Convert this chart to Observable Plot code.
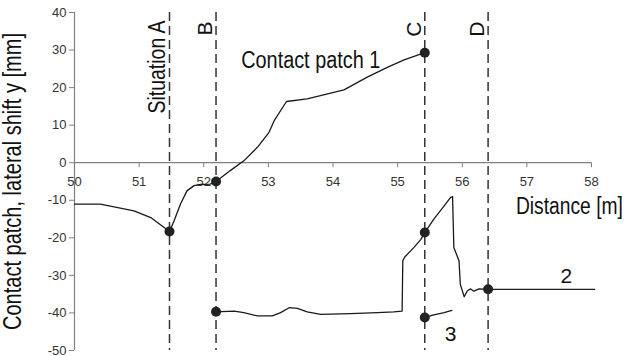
<!DOCTYPE html>
<html><head><meta charset="utf-8">
<script src="https://cdn.jsdelivr.net/npm/d3@7"></script>
<script src="https://cdn.jsdelivr.net/npm/@observablehq/plot@0.6"></script>
<style>body{margin:0;background:#fff} svg{display:block}</style>
</head><body><div id="chart"></div>
<script>
// Axis ticks
const xTicks = [50, 51, 52, 53, 54, 55, 56, 57, 58];
const yTicks = [-50, -40, -30, -20, -10, 0, 10, 20, 30, 40];

// Situations (vertical dashed lines)
const sitX = [51.47, 52.19, 55.42, 56.40];
const sitLabels = ["Situation A", "B", "C", "D"];

// Contact patch 1
const p1X = [50.00, 50.40, 50.92, 51.18, 51.47, 51.54, 51.64, 51.74, 51.85, 51.95, 52.10, 52.19, 52.41, 52.62, 52.83, 53.01, 53.09, 53.28, 53.60, 54.17, 54.53, 54.84, 55.10, 55.42];
const p1Y = [-11.0, -11.0, -12.8, -14.6, -18.3, -15.5, -11.0, -7.5, -6.1, -5.8, -5.7, -5.0, -2.1, 0.5, 4.1, 8.1, 11.2, 16.3, 17.0, 19.4, 22.8, 25.4, 27.4, 29.3];

// Contact patch 2
const p2X = [52.19, 52.47, 52.62, 52.83, 53.06, 53.19, 53.32, 53.45, 53.60, 53.81, 54.27, 54.69, 54.94, 55.07, 55.08, 55.11, 55.25, 55.36, 55.42, 55.56, 55.72, 55.82, 55.85, 55.87, 55.95, 55.97, 56.03, 56.08, 56.13, 56.18, 56.26, 56.40, 58.05];
const p2Y = [-39.7, -39.5, -39.9, -40.8, -40.8, -39.9, -38.6, -38.8, -39.7, -40.4, -40.2, -39.9, -39.7, -39.5, -26.1, -25.1, -22.6, -20.4, -18.6, -15.0, -11.5, -9.2, -9.0, -22.6, -26.1, -32.4, -35.7, -34.1, -33.6, -34.2, -33.6, -33.7, -33.7];

// Contact patch 3
const p3X = [55.42, 55.56, 55.72, 55.84];
const p3Y = [-41.2, -40.5, -39.9, -39.3];

// Marked points
const dotX = [51.47, 52.19, 52.19, 55.42, 55.42, 55.42, 56.40];
const dotY = [-18.3, -5.0, -39.7, 29.3, -18.6, -41.2, -33.7];

// Annotations
const annText = ["Contact patch 1", "Distance [m]", "2", "3"];
const annX = [52.58, 56.83, 57.61, 55.82];
const annY = [27.1, -11.7, -30.2, -45.8];
const yLabel = "Contact patch, lateral shift y [mm]";

const toRows = (xs, ys) => xs.map((x, i) => ({x, y: ys[i]}));
const p1 = toRows(p1X, p1Y), p2 = toRows(p2X, p2Y), p3 = toRows(p3X, p3Y);
const dots = toRows(dotX, dotY);
const sits = sitX.map((x, i) => ({x, label: sitLabels[i]}));
const anns = annText.map((t, i) => ({t, x: annX[i], y: annY[i]}));

const font = "'Liberation Sans', Arial, sans-serif";

const plot = Plot.plot({
  width: 627, height: 356,
  marginLeft: 74, marginRight: 36, marginTop: 12, marginBottom: 6,
  style: {fontFamily: font, background: "#fff", overflow: "visible"},
  x: {domain: [50, 58]},
  y: {domain: [-50, 40]},
  marks: [
    Plot.ruleY([0], {stroke: "#808080", strokeWidth: 1.2}),
    Plot.ruleX([50], {stroke: "#808080", strokeWidth: 1.2}),
    Plot.axisY({ticks: yTicks, tickSize: 5, tickPadding: 3, tickFormat: d => String(d), fontSize: 13, stroke: "#808080", fill: "#333", label: null}),
    Plot.axisX({ticks: xTicks, tickSize: 5, tickPadding: 9, tickFormat: d => String(d), fontSize: 13, stroke: "#808080", fill: "#333", label: null}),
    Plot.ruleX(sits, {x: "x", stroke: "#333", strokeWidth: 1.5, strokeDasharray: "9,5"}),
    Plot.line(p1, {x: "x", y: "y", stroke: "#1a1a1a", strokeWidth: 1.3}),
    Plot.line(p2, {x: "x", y: "y", stroke: "#1a1a1a", strokeWidth: 1.3}),
    Plot.line(p3, {x: "x", y: "y", stroke: "#1a1a1a", strokeWidth: 1.3}),
    Plot.dot(dots, {x: "x", y: "y", r: 5, fill: "#222", stroke: "none"}),
    Plot.text(sits.slice(0, 1), {x: "x", frameAnchor: "top", text: "label", rotate: -90, textAnchor: "end", lineAnchor: "middle", dx: -12, dy: 8, fontSize: 23.5, fill: "#111"}),
    Plot.text(sits.slice(1), {x: "x", frameAnchor: "top", text: "label", rotate: -90, textAnchor: "end", lineAnchor: "middle", dx: -11, dy: 9, fontSize: 21, fill: "#111"}),
    Plot.text(anns.slice(0, 2), {x: "x", y: "y", text: "t", textAnchor: "start", lineAnchor: "middle", fontSize: 23.5, fill: "#111"}),
    Plot.text(anns.slice(2), {x: "x", y: "y", text: "t", textAnchor: "middle", lineAnchor: "middle", fontSize: 21, fill: "#111"}),
    Plot.text([yLabel], {frameAnchor: "left", rotate: -90, textAnchor: "middle", lineAnchor: "middle", dx: -62, fontSize: 25, fill: "#111"})
  ]
});

// Move the x axis so that it crosses at y = 0
const y0 = plot.scale("y").apply(0);
const shift = y0 - (356 - 6);
plot.querySelectorAll('g[aria-label^="x-axis"]').forEach(g => {
  const t = g.getAttribute("transform") || "";
  g.setAttribute("transform", `translate(0,${shift}) ${t}`);
});

// Condensed lettering as in the reference
const lengths = {"Situation A": 93, "Contact patch 1": 139, "Distance [m]": 107};
lengths[yLabel] = 297;
plot.querySelectorAll("text").forEach(t => {
  const L = lengths[t.textContent];
  if (L) { t.setAttribute("textLength", L); t.setAttribute("lengthAdjust", "spacingAndGlyphs"); }
});
document.getElementById("chart").appendChild(plot);
</script>
</body></html>
